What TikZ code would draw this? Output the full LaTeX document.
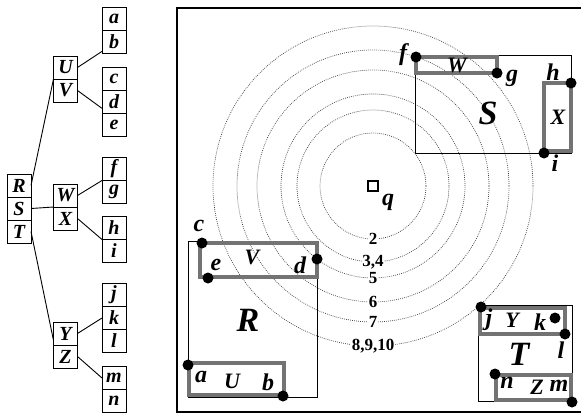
\documentclass[tikz,border=0pt]{standalone}
\usepackage{fontspec}
\setmainfont{Liberation Serif}
\usetikzlibrary{positioning}

\begin{document}
\begin{tikzpicture}[x=1pt, y=-1pt,
  cell/.style={draw, line width=1pt, minimum width=24pt, minimum height=23pt,
    inner sep=0pt, outer sep=0pt, font=\fontsize{20}{20}\selectfont\bfseries\itshape},
  link/.style={line width=0.9pt},
  region/.style={draw, line width=1pt},
  part/.style={draw=black!55, line width=3.8pt},
  ring/.style={dash pattern=on 0.8pt off 1.2pt, line width=0.7pt, black!75},
  dist/.style={fill=white, inner sep=0.6pt, font=\fontsize{17}{17}\selectfont\bfseries},
  ptlbl/.style={inner sep=0pt, font=\fontsize{24}{24}\selectfont\bfseries\itshape},
  partlbl/.style={inner sep=0pt, font=\fontsize{22}{22}\selectfont\bfseries\itshape},
  biglbl/.style={inner sep=0pt, font=\fontsize{34}{34}\selectfont\bfseries\itshape}]
  \useasboundingbox (0,0) rectangle (581,415);

  % tree of cells
  \node[cell] (tR) at (19,185.5) {R};
  \node[cell, below=0pt of tR] (tS) {S};
  \node[cell, below=0pt of tS] (tT) {T};

  \node[cell] (tU) at (65.5,67.5) {U};
  \node[cell, below=0pt of tU] (tV) {V};
  \node[cell] (tW) at (65.5,195.5) {W};
  \node[cell, below=0pt of tW] (tX) {X};
  \node[cell] (tY) at (65.5,333.5) {Y};
  \node[cell, below=0pt of tY] (tZ) {Z};

  \node[cell] (ta) at (114,19) {a};
  \node[cell, below=0pt of ta] (tb) {b};
  \node[cell] (tc) at (114,79) {c};
  \node[cell, below=0pt of tc] (td) {d};
  \node[cell, below=0pt of td] (te) {e};
  \node[cell] (tf) at (114,169) {f};
  \node[cell, below=0pt of tf] (tg) {g};
  \node[cell] (th) at (114,228) {h};
  \node[cell, below=0pt of th] (ti) {i};
  \node[cell] (tj) at (114,295) {j};
  \node[cell, below=0pt of tj] (tk) {k};
  \node[cell, below=0pt of tk] (tl) {l};
  \node[cell] (tm) at (114,378) {m};
  \node[cell, below=0pt of tm] (tn) {n};

  \draw[link] (tR.east) -- (tU.south west);
  \draw[link] (tS.east) -- (tW.south west);
  \draw[link] (tT.east) -- (tY.-150);
  \draw[link] (tU.east) -- (tb.-142);
  \draw[link] (tV.east) -- (td.-152);
  \draw[link] (tW.east) -- (tg.north west);
  \draw[link] (tX.east) -- (ti.north west);
  \draw[link] (tY.east) -- (tk.west);
  \draw[link] (tZ.east) -- (tm.west);

  % frame
  \draw[line width=1.8pt] (581,8) -- (177,8) -- (177,412) -- (581,412);

  % query point and distance rings
  \node[draw, line width=1.3pt, minimum size=10pt, inner sep=0pt] (q) at (373,186) {};
  \foreach \r/\t [count=\i] in {53/2, 76/{3,4}, 92/5, 116/6, 136/7, 160/{8,9,10}} {
    \draw[ring] (q.center) circle (\r pt);
    \node[dist] (lab\i) at ([yshift=-\r pt]q.center) {\t};
  }
  \node[ptlbl] at (388,202) {q};

  \coordinate (pa) at (188,365);
  \coordinate (pb) at (283,396);
  \coordinate (pc) at (202,243);
  \coordinate (pd) at (317,259);
  \coordinate (pe) at (208,278);
  \coordinate (pf) at (416,57);
  \coordinate (pg) at (497,73);
  \coordinate (ph) at (571,83);
  \coordinate (pi) at (544,153);
  \coordinate (pj) at (481,307);
  \coordinate (pk) at (555,318);
  \coordinate (pl) at (565,334);
  \coordinate (pm) at (572,402);
  \coordinate (pn) at (495,374);

  % regions
  \draw[region] (415,55) rectangle (571,153);
  \draw[region] (188,241) rectangle (317,397);
  \draw[region] (478,305) rectangle (572,401);

  \draw[part] (pf) rectangle (pg);
  \draw[part] (544,83) rectangle (571,151);
  \draw[part] (200,243) rectangle (317,277);
  \draw[part] (189,363) rectangle (284,395);
  \draw[part] (480,308) rectangle (565,334);
  \draw[part] (496,375) rectangle (571,400);

  \foreach \p in {pa,pb,pc,pd,pe,pf,pg,ph,pi,pj,pk,pl,pm,pn}
    \fill (\p) circle (5.5pt);

  \node[biglbl] at (488,113) {S};
  \node[biglbl] at (248,320) {R};
  \node[biglbl] at (519,354) {T};

  \node[partlbl] at (457,65) {W};
  \node[partlbl] at (558,117) {X};
  \node[partlbl] at (252,257) {V};
  \node[partlbl] at (232,381) {U};
  \node[partlbl] at (512,320) {Y};
  \node[partlbl] at (537,387) {Z};

  \node[ptlbl] at (403,55) {f};
  \node[ptlbl] at (512,78) {g};
  \node[ptlbl] at (553,72) {h};
  \node[ptlbl] at (555,163) {i};
  \node[ptlbl] at (199,226) {c};
  \node[ptlbl] at (216,265) {e};
  \node[ptlbl] at (300,265) {d};
  \node[ptlbl] at (201,377) {a};
  \node[ptlbl] at (268,382) {b};
  \node[ptlbl] at (489,320) {j};
  \node[ptlbl] at (540,322) {k};
  \node[ptlbl] at (561,350) {l};
  \node[ptlbl] at (507,383) {n};
  \node[ptlbl] at (559,386) {m};
\end{tikzpicture}
\end{document}
